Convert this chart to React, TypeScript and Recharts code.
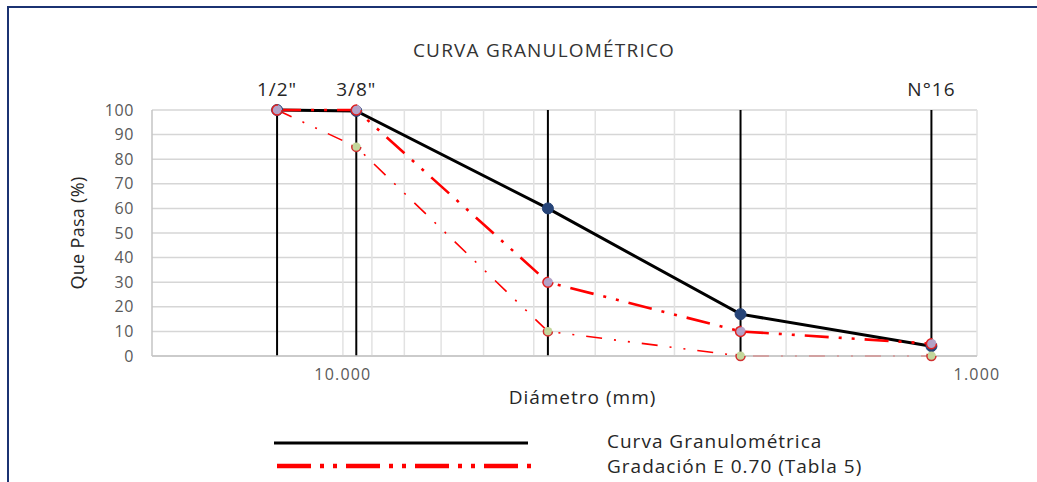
import { LineChart, Line, XAxis, YAxis, CartesianGrid, ReferenceLine } from "recharts";

// tamices (mm) y porcentajes que pasa
const sieveSizes = [12.7, 9.525, 4.75, 2.36, 1.18];
const sieveLabels = ['1/2"', '3/8"', "", "", "N°16"];
const curvaGranulometrica = [100, 99.6, 60, 17, 4];
const gradacionSuperior = [100, 100, 30, 10, 5];
const gradacionInferior = [100, 85, 10, 0, 0];

const minorGrid = [10, 9, 8, 7, 6, 5, 4, 3, 2, 1];
const xTicks = [10, 1];
const yTicks = [0, 10, 20, 30, 40, 50, 60, 70, 80, 90, 100];

const FONT = "'Open Sans', sans-serif";
const RED = "#FF0000";

const data = sieveSizes.map((d, i) => ({
  d,
  curva: curvaGranulometrica[i],
  sup: gradacionSuperior[i],
  inf: gradacionInferior[i],
}));

const legendItems = [
  { name: "Curva Granulométrica", color: "#000000", width: 3, dash: undefined },
  { name: "Gradación E 0.70 (Tabla 5)", color: RED, width: 4.5, dash: "34 9 4 9 4 9" },
];

function SieveLegend() {
  return (
    <svg width={1037} height={70} style={{ position: "absolute", left: 0, top: 425 }}>
      {legendItems.map((item, i) => (
        <g key={item.name}>
          <line
            x1={i === 0 ? 274 : 277}
            x2={i === 0 ? 528 : 533}
            y1={18 + i * 23}
            y2={18 + i * 23}
            stroke={item.color}
            strokeWidth={item.width}
            strokeDasharray={item.dash}
          />
          <text
            x={607}
            y={16 + i * 25}
            dy="0.35em"
            fontFamily={FONT}
            fontSize={19}
            fill="#262626"
            style={{ letterSpacing: 1 }}
          >
            {item.name}
          </text>
        </g>
      ))}
    </svg>
  );
}

export default function App() {
  return (
    <div style={{ position: "relative", width: 1037, height: 482, overflow: "hidden", background: "#fff" }}>
      <style>{`body{margin:0}`}</style>
      <div
        style={{
          position: "absolute",
          left: 7,
          top: 6,
          width: 1200,
          height: 700,
          borderLeft: "2px solid #1B3372",
          borderTop: "2px solid #1B3372",
        }}
      />
      <div
        style={{
          position: "absolute",
          left: 0,
          top: 37,
          width: 1088,
          textAlign: "center",
          fontFamily: FONT,
          fontSize: 19,
          letterSpacing: 1.2,
          color: "#333",
        }}
      >
        CURVA GRANULOMÉTRICO
      </div>
      <div style={{ position: "absolute", left: 0, top: 0 }}>
        <LineChart width={1037} height={482} data={data} margin={{ top: 110, right: 60, bottom: 86, left: 0 }}>
          <CartesianGrid vertical={false} stroke="#d6d6d6" strokeWidth={1.5} />
          {minorGrid.map((v) => (
            <ReferenceLine key={v} x={v} stroke="#e2e2e2" strokeWidth={1.5} />
          ))}
          <XAxis
            dataKey="d"
            type="number"
            scale="log"
            domain={[1, 20]}
            reversed
            allowDataOverflow
            ticks={xTicks}
            tickFormatter={(v) => Number(v).toFixed(3)}
            tick={{ fill: "#595959", fontSize: 16, fontFamily: FONT, style: { letterSpacing: 1.2 } }}
            axisLine={{ stroke: "#c4c4c4", strokeWidth: 1.5 }}
            tickLine={false}
            tickMargin={7}
            height={40}
            label={{
              value: "Diámetro (mm)",
              position: "insideBottom",
              offset: -8,
              dx: 18,
              fill: "#262626",
              fontSize: 19,
              fontFamily: FONT,
              style: { letterSpacing: 1 },
            }}
          />
          <YAxis
            type="number"
            domain={[0, 100]}
            ticks={yTicks}
            width={152}
            tick={{ fill: "#595959", fontSize: 16, fontFamily: FONT, style: { letterSpacing: 0.6 } }}
            axisLine={{ stroke: "#c4c4c4", strokeWidth: 1.5 }}
            tickLine={false}
            tickMargin={12}
            label={{
              value: "Que Pasa (%)",
              angle: -90,
              position: "insideLeft",
              offset: 78,
              fill: "#262626",
              fontSize: 18,
              fontFamily: FONT,
              style: { textAnchor: "middle", letterSpacing: 0.3 },
            }}
          />
          {sieveSizes.map((s, i) => (
            <ReferenceLine
              key={s}
              x={s}
              stroke="#000"
              strokeWidth={2}
              label={
                sieveLabels[i]
                  ? {
                      value: sieveLabels[i],
                      position: "top",
                      offset: 14,
                      fill: "#262626",
                      fontSize: 19,
                      fontFamily: FONT,
                      style: { letterSpacing: 1 },
                    }
                  : undefined
              }
            />
          ))}
          <Line
            dataKey="curva"
            stroke="#000"
            strokeWidth={3}
            dot={{ r: 5.5, fill: "#264478", stroke: "#264478", strokeWidth: 1 }}
            isAnimationActive={false}
          />
          <Line
            dataKey="inf"
            stroke={RED}
            strokeWidth={1.6}
            strokeDasharray="16 12 2 12 2 12"
            dot={{ r: 4.5, fill: "#C3D69B", stroke: "#D03030", strokeWidth: 1.5 }}
            isAnimationActive={false}
          />
          <Line
            dataKey="sup"
            stroke={RED}
            strokeWidth={2.6}
            strokeDasharray="24 10 3 10 3 10"
            dot={{ r: 5, fill: "#B3A2C7", stroke: "#E02020", strokeWidth: 1.5 }}
            isAnimationActive={false}
          />
        </LineChart>
      </div>
      <SieveLegend />
    </div>
  );
}
